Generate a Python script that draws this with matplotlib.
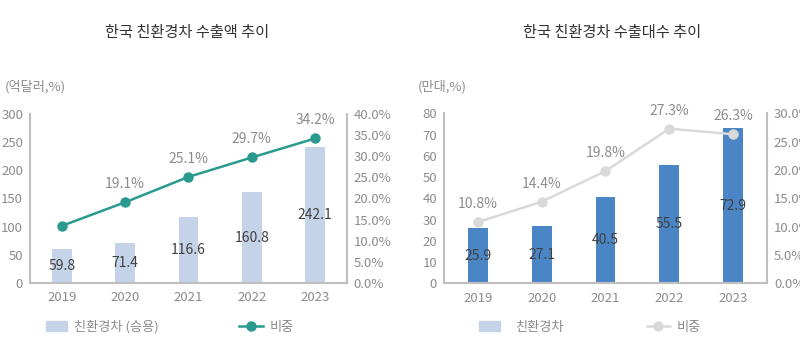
import matplotlib
matplotlib.use("Agg")
import matplotlib.pyplot as plt
from matplotlib.patches import Patch
from matplotlib.lines import Line2D
from matplotlib.ticker import FuncFormatter

plt.rcParams['font.family'] = ['Noto Sans CJK KR', 'DejaVu Sans']
plt.rcParams['font.weight'] = 'light'

years = ['2019', '2020', '2021', '2022', '2023']

# left chart: export value (100M USD) and share (%)
export_value = [59.8, 71.4, 116.6, 160.8, 242.1]
value_share = [13.5, 19.1, 25.1, 29.7, 34.2]
value_share_labels = [None, '19.1%', '25.1%', '29.7%', '34.2%']

# right chart: export units (10k) and share (%)
export_units = [25.9, 27.1, 40.5, 55.5, 72.9]
unit_share = [10.8, 14.4, 19.8, 27.3, 26.3]
unit_share_labels = ['10.8%', '14.4%', '19.8%', '27.3%', '26.3%']

tick_gray = '#8c8c8c'
spine_gray = '#bfbfbf'
label_dark = '#404040'

fig = plt.figure(figsize=(8, 3.64), dpi=100)


def setup(ax, ax2, ymax, ystep, pmax, pstep):
    ax.set_xlim(-0.5, 4.5)
    ax.set_ylim(0, ymax)
    ax.set_yticks(range(0, ymax + 1, ystep))
    ax2.set_ylim(0, pmax)
    ticks = []
    v = 0.0
    while v <= pmax + 1e-9:
        ticks.append(v)
        v += pstep
    ax2.set_yticks(ticks)
    ax2.yaxis.set_major_formatter(FuncFormatter(lambda t, p: f'{t:.1f}%'))
    ax.set_xticks(list(range(len(years))))
    ax.set_xticklabels(years)
    for a in (ax, ax2):
        a.spines['top'].set_visible(False)
        a.tick_params(length=0, colors=tick_gray, labelsize=9.5)
    ax.spines['right'].set_visible(False)
    ax2.spines['left'].set_visible(False)
    ax2.spines['bottom'].set_visible(False)
    ax.spines['left'].set_color(spine_gray)
    ax.spines['bottom'].set_color(spine_gray)
    ax2.spines['right'].set_color(spine_gray)
    for s in ('left', 'bottom'):
        ax.spines[s].set_linewidth(1.5)
    ax2.spines['right'].set_linewidth(1.5)
    ax.tick_params(axis='y', pad=5)
    ax.tick_params(axis='x', pad=6)
    ax2.tick_params(axis='y', pad=5)


xs = list(range(len(years)))

# ---- left chart ----
ax1 = fig.add_axes([0.0375, 0.2225, 0.396, 0.4645])
ax1b = ax1.twinx()
setup(ax1, ax1b, 300, 50, 40, 5)
ax1.bar(xs, export_value, width=0.31, color='#c5d3e9', zorder=2)
for xi, v in zip(xs, export_value):
    ax1.text(xi, v / 2, f'{v:.1f}', ha='center', va='center',
             fontsize=10, color=label_dark, zorder=5)
ax1b.plot(xs, value_share, color='#2a9a8f', lw=1.8, marker='o', ms=6.5, zorder=3)
for xi, v, lab in zip(xs, value_share, value_share_labels):
    if lab:
        ax1b.annotate(lab, (xi, v), xytext=(0, 8), textcoords='offset points',
                      ha='center', va='bottom', fontsize=10, color=tick_gray)
fig.text(0.234, 0.912, '한국 친환경차 수출액 추이', ha='center', va='center',
         fontsize=11, color='#333333', weight='normal')
fig.text(0.006, 0.761, '(억달러,%)', ha='left', va='center', fontsize=9.5,
         color=tick_gray)
fig.legend(handles=[Patch(color='#c5d3e9')], labels=['친환경차 (승용)'],
           loc='center left', bbox_to_anchor=(0.049, 0.101), frameon=False,
           fontsize=9.5, handlelength=1.6, handleheight=0.8, handletextpad=0.5,
           labelcolor=tick_gray, borderpad=0)
fig.legend(handles=[Line2D([], [], color='#2a9a8f', lw=1.8, marker='o', ms=6.5)],
           labels=['비중'], loc='center left', bbox_to_anchor=(0.291, 0.101),
           frameon=False, fontsize=9.5, handlelength=1.8, handletextpad=0.5,
           labelcolor=tick_gray, borderpad=0)

# ---- right chart ----
ax2 = fig.add_axes([0.555, 0.2217, 0.4037, 0.467])
ax2b = ax2.twinx()
setup(ax2, ax2b, 80, 10, 30, 5)
ax2.set_xlim(-0.53, 4.53)
ax2.bar(xs, export_units, width=0.31, color='#4a86c6', zorder=2)
for xi, v in zip(xs, export_units):
    ax2.text(xi, v / 2, f'{v:.1f}', ha='center', va='center',
             fontsize=10, color=label_dark, zorder=5)
ax2b.plot(xs, unit_share, color='#d9d9d9', lw=1.8, marker='o', ms=6.5, zorder=3)
for xi, v, lab in zip(xs, unit_share, unit_share_labels):
    ax2b.annotate(lab, (xi, v), xytext=(0, 8), textcoords='offset points',
                  ha='center', va='bottom', fontsize=10, color=tick_gray)
fig.text(0.765, 0.912, '한국 친환경차 수출대수 추이', ha='center', va='center',
         fontsize=11, color='#333333', weight='normal')
fig.text(0.522, 0.761, '(만대,%)', ha='left', va='center', fontsize=9.5,
         color=tick_gray)
fig.legend(handles=[Patch(color='#c5d3e9')], labels=['친환경차'],
           loc='center left', bbox_to_anchor=(0.59, 0.101), frameon=False,
           fontsize=9.5, handlelength=1.6, handleheight=0.8, handletextpad=1.2,
           labelcolor=tick_gray, borderpad=0)
fig.legend(handles=[Line2D([], [], color='#d9d9d9', lw=1.8, marker='o', ms=6.5)],
           labels=['비중'], loc='center left', bbox_to_anchor=(0.8, 0.101),
           frameon=False, fontsize=9.5, handlelength=1.8, handletextpad=0.5,
           labelcolor=tick_gray, borderpad=0)

fig.savefig('out.png', dpi=100, facecolor='white')
